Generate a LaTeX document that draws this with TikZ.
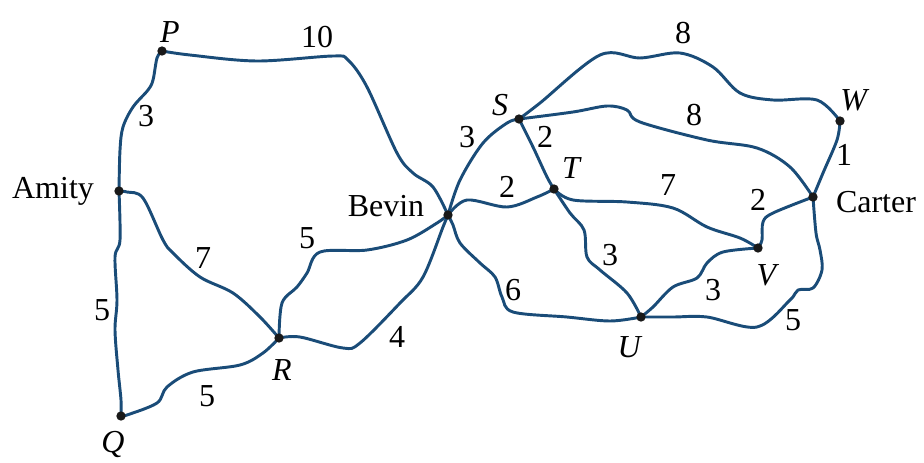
\documentclass[tikz,border=0pt]{standalone}
\usepackage{fontspec}
\setmainfont{Liberation Serif}
\usetikzlibrary{backgrounds}

\begin{document}
\begin{tikzpicture}[x=0.75pt, y=-0.75pt]
    % Define styles
    \tikzstyle{town}=[circle, fill=black!90, inner sep=0pt, minimum size=7pt]
    \tikzstyle{road}=[draw=roadblue, line width=2.2pt, line cap=round, line join=round]
    \tikzstyle{lab}=[anchor=base, inner sep=0pt, font=\fontsize{24}{27}\selectfont]
    \definecolor{roadblue}{RGB}{26,76,120}
    \useasboundingbox (0,0) rectangle (924,462);

    % Draw towns
    \foreach \n/\x/\y in {P/162/51, A/119/191, Q/121/416, R/279/338, B/448/215,
        S/519/119, T/554/189, W/840/121, C/813/197, V/758/248, U/641/317} {
        \node[town] (\n) at (\x,\y) {};
    }

    % Draw roads
    \begin{scope}[on background layer, tension=0.55]
    \draw[road] plot[smooth] coordinates {(P) (157,58) (153,80) (148,90) (133,107) (123,127) (120,150) (A)};
    \draw[road] plot[smooth] coordinates {(P) (190,55) (257,61) (333,56) (348,60) (367,87) (397,153) (413,173) (433,187) (B)};
    \draw[road] plot[smooth] coordinates {(A) (120,240) (115,257) (117,300) (115,330) (118,370) (121,400) (Q)};
    \draw[road] plot[smooth] coordinates {(A) (127,192) (143,198) (163,240) (173,253) (200,277) (233,293) (260,317) (R)};
    \draw[road] plot[smooth] coordinates {(Q) (127,415) (157,403) (167,387) (193,372) (240,365) (263,353) (R)};
    \draw[road] plot[smooth] coordinates {(R) (282,303) (297,287) (307,273) (320,252) (367,250) (407,240) (437,223) (B)};
    \draw[road] plot[smooth] coordinates {(R) (300,337) (343,348) (360,343) (400,303) (423,277) (443,227) (B)};
    \draw[road] plot[smooth] coordinates {(B) (460,180) (483,143) (507,123) (S)};
    \draw[road] plot[smooth] coordinates {(B) (467,200) (507,207) (537,197) (T)};
    \draw[road] plot[smooth] coordinates {(S) (533,147) (547,177) (T)};
    \draw[road] plot[smooth] coordinates {(S) (540,103) (600,55) (640,58) (680,53) (713,67) (740,93) (773,100) (817,100) (W)};
    \draw[road] plot[smooth] coordinates {(S) (573,112) (607,106) (627,110) (640,122) (707,140) (757,148) (790,167) (C)};
    \draw[road] plot[smooth] coordinates {(W) (837,140) (823,173) (C)};
    \draw[road] plot[smooth] coordinates {(T) (573,200) (627,202) (673,208) (707,227) (740,238) (V)};
    \draw[road] plot[smooth] coordinates {(V) (762,240) (763,222) (773,213) (C)};
    \draw[road] plot[smooth] coordinates {(C) (816,233) (820,250) (822,270) (813,288) (798,290) (790,300) (757,327) (707,317) (673,317) (U)};
    \draw[road] plot[smooth] coordinates {(U) (653,307) (673,287) (697,278) (707,263) (723,252) (V)};
    \draw[road] plot[smooth] coordinates {(T) (570,213) (584,230) (587,257) (600,270) (627,293) (U)};
    \draw[road] plot[smooth] coordinates {(B) (453,225) (460,243) (480,263) (495,277) (502,297) (513,312) (567,317) (610,321) (U)};
    \end{scope}

    % Town names
    \foreach \n/\x/\y/\t in {P/170/42/\textit{P}, A/53/198/Amity, Q/113/452/\textit{Q},
        R/282/380/\textit{R}, B/386/216/Bevin, S/500/115/\textit{S}, T/572/178/\textit{T},
        W/855/110/\textit{W}, C/876/212/Carter, V/768/285/\textit{V}, U/630/357/\textit{U}} {
        \node[lab] (\n-name) at (\x,\y) {\t};
    }

    % Distances
    \foreach \n/\x/\y/\t in {PA/146/126/3, PB/317/47/10, AQ/102/320/5, AR/203/268/7,
        QR/207/406/5, RB1/307/248/5, RB2/397/347/4, BS/467/147/3, BT/507/197/2,
        ST/545/147/2, SW/683/43/8, SC/694/125/8, WC/844/165/1, TV/668/195/7,
        VC/758/210/2, CU/793/330/5, UV/713/300/3, TU/610/265/3, BU/513/300/6} {
        \node[lab] (\n-dist) at (\x,\y) {\t};
    }
\end{tikzpicture}
\end{document}
